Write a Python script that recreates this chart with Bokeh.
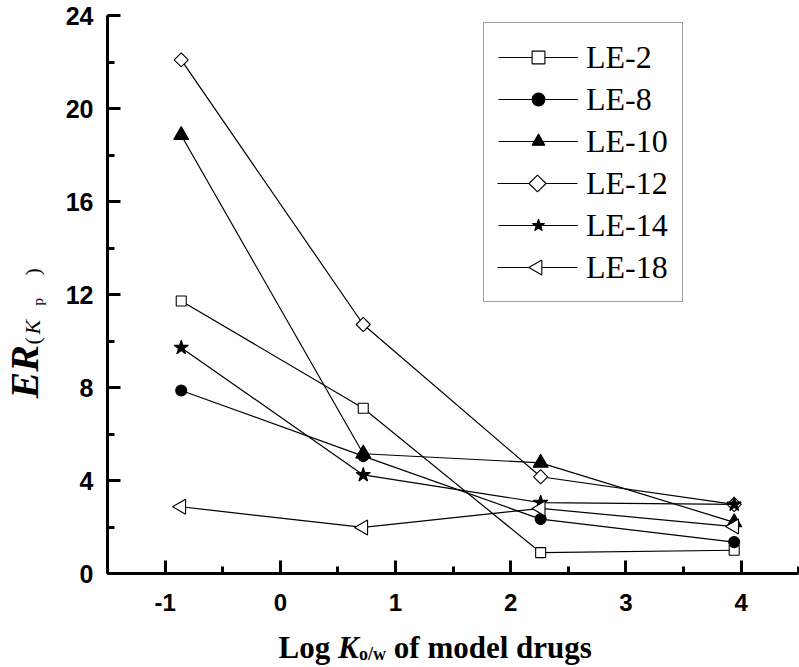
import math
from bokeh.plotting import figure
from bokeh.models import (Range1d, SingleIntervalTicker, Legend, LegendItem, Label)
from bokeh.embed import file_html
from bokeh.resources import INLINE

# ---- data ----
log_kow = [-0.86, 0.72, 2.26, 3.94]
series_names = ["LE-2", "LE-8", "LE-10", "LE-12", "LE-14", "LE-18"]
le2 = [11.72, 7.11, 0.90, 1.00]
le8 = [7.87, 5.05, 2.34, 1.35]
le10 = [18.85, 5.15, 4.76, 2.20]
le12 = [22.09, 10.71, 4.16, 2.97]
le14 = [9.71, 4.24, 3.05, 2.97]
le18 = [2.87, 1.98, 2.80, 2.02]
x_axis_bounds = (-1.5, 4.5)
y_axis_bounds = (0, 24)

# ---- canvas / frame layout (frame fills the whole canvas) ----
W, H = 799, 667
AX_X = 107          # pixel column of the y axis
AX_Y = 573          # pixel row of the x axis
TOP_Y = 15          # pixel row of y = 24
XU = 115.2          # px per x unit
YU = (AX_Y - TOP_Y) / 24.0   # px per y unit
X0 = x_axis_bounds[0] - AX_X / XU
X1 = x_axis_bounds[0] + (W - AX_X) / XU
Y0 = -(H - AX_Y) / YU
Y1 = AX_Y / YU

def dx(px):
    return X0 + px / XU
def dy(py):
    return Y0 + (H - py) / YU

p = figure(width=W, height=H, output_backend="svg", toolbar_location=None,
           x_range=Range1d(X0, X1), y_range=Range1d(Y0, Y1),
           min_border_left=0, min_border_right=0, min_border_top=0,
           min_border_bottom=0, title=None)
p.outline_line_color = None
p.grid.visible = False
p.background_fill_color = "white"
p.border_fill_color = "white"

serif = "Liberation Serif"
sans = "Liberation Sans"

styles = [
    dict(marker="square", fill_color="white", size=10, angle=0),
    dict(marker="circle", fill_color="black", size=11, angle=0),
    dict(marker="triangle", fill_color="black", size=15, angle=0),
    dict(marker="square", fill_color="white", size=10, angle=math.pi / 4),
    dict(marker="star", fill_color="black", size=15, angle=0),
    dict(marker="triangle", fill_color="white", size=15, angle=math.pi / 2),
]
data = [le2, le8, le10, le12, le14, le18]

dummy = p.line(x=[], y=[], line_alpha=0)

items = []
for i, (name, ys, st) in enumerate(zip(series_names, data, styles)):
    ln = p.line(log_kow, ys, line_color="black", line_width=1.2)
    sc = p.scatter(log_kow, ys, marker=st["marker"], size=st["size"],
                   angle=st["angle"], fill_color=st["fill_color"],
                   line_color="black", line_width=1.1)
    if st["angle"] == 0:
        items.append(LegendItem(label=name, renderers=[ln, sc]))
    else:
        items.append(LegendItem(label=name, renderers=[dummy]))

# axes drawn at fixed locations inside the full-canvas frame
p.xaxis.fixed_location = 0
p.xaxis.bounds = x_axis_bounds
p.yaxis.fixed_location = x_axis_bounds[0]
p.yaxis.bounds = y_axis_bounds
p.xaxis.ticker = SingleIntervalTicker(interval=1, num_minor_ticks=2)
p.yaxis.ticker = SingleIntervalTicker(interval=4, num_minor_ticks=2)
p.xaxis.major_label_overrides = {-1: "-1"}
for ax in (p.xaxis[0], p.yaxis[0]):
    ax.axis_line_width = 3
    ax.axis_line_color = "black"
    ax.major_tick_line_width = 3
    ax.minor_tick_line_width = 3
    ax.major_tick_in = 13
    ax.major_tick_out = 0
    ax.minor_tick_in = 7
    ax.minor_tick_out = 0
    ax.major_label_text_font = sans
    ax.major_label_text_font_style = "bold"
    ax.major_label_text_color = "black"
    ax.axis_label = None
p.xaxis.major_label_text_font_size = "24px"
p.yaxis.major_label_text_font_size = "25px"
p.xaxis.major_label_standoff = 20
p.yaxis.major_label_standoff = 14

# legend
LEG_L, LEG_T = 483, 22
PAD, LBL_H, SP, GW = 14, 40, 2, 80
leg_h = 2 * PAD + 6 * LBL_H + 5 * SP + 2
leg = Legend(items=items, location=(LEG_L, H - (LEG_T + leg_h)),
             glyph_width=GW, glyph_height=32, label_height=LBL_H,
             label_standoff=8, spacing=SP, padding=PAD, margin=0,
             label_text_font=serif, label_text_font_size="32px",
             label_text_color="black",
             border_line_color="#404040", border_line_width=1.5,
             background_fill_alpha=0.0)
p.add_layout(leg)

# rotated markers for legend entries (legend glyphs cannot be rotated)
leg_marker_size = {3: 12, 5: 15}
for i, st in enumerate(styles):
    if st["angle"] != 0:
        cx0 = LEG_L + PAD
        cy = LEG_T + 1 + PAD + LBL_H / 2 + i * (LBL_H + SP)
        p.line([dx(cx0), dx(cx0 + GW)], [dy(cy), dy(cy)], line_color="black",
               line_width=1.2)
        p.scatter([dx(cx0 + GW / 2)], [dy(cy)], marker=st["marker"],
                  size=leg_marker_size[i], angle=st["angle"],
                  fill_color="white", line_color="black", line_width=1.1)

# x axis title: "Log K_o/w of model drugs"
fs = 31
base = 647
xl = 278
parts = [
    ("Log", xl, base, fs, "bold"),
    ("K", xl + 1.917 * fs, base, fs, "bold italic"),
    ("o/w", xl + 2.60 * fs, base + 6, 18, "bold"),
    ("of model drugs", xl + 2.60 * fs + 1.5 * 18 + 0.25 * fs, base, fs, "bold"),
]
for txt, px, py, f, stl in parts:
    p.add_layout(Label(x=dx(px), y=dy(py), text=txt, text_font=serif,
                       text_font_size=f"{f}px", text_font_style=stl,
                       text_color="black", text_align="left",
                       text_baseline="alphabetic"))

# y axis title: "ER_(K_p)" rotated
yparts = [
    ("ER", 24, 398, 40, "bold italic"),
    ("(", 32, 344, 22, "normal"),
    ("K", 32, 334, 22, "italic"),
    ("p", 37, 305, 15, "normal"),
    (")", 32, 275, 22, "normal"),
]
for txt, px, py, f, stl in yparts:
    p.add_layout(Label(x=dx(px), y=dy(py), text=txt, text_font=serif,
                       text_font_size=f"{f}px", text_font_style=stl,
                       text_color="black", text_align="left",
                       text_baseline="alphabetic", angle=math.pi / 2))

open("out.html", "w").write(file_html(p, INLINE))
